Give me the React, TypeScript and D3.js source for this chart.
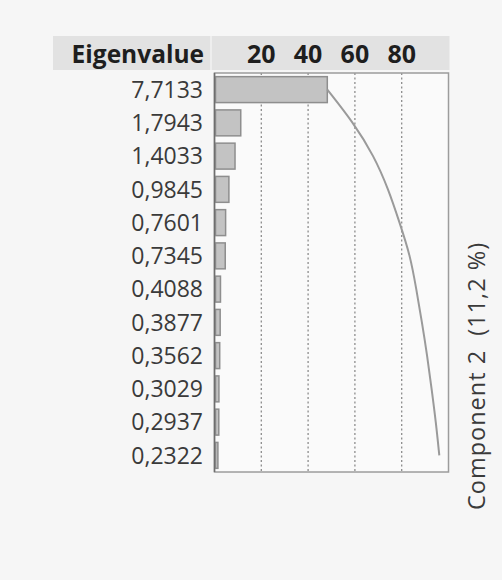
import React, { useEffect, useRef } from 'react';
import * as d3 from 'd3';

// eigenvalues of the first 12 components (16 variables in total)
const eigenvalues: number[] = [
  7.7133, 1.7943, 1.4033, 0.9845, 0.7601, 0.7345, 0.4088, 0.3877, 0.3562, 0.3029, 0.2937, 0.2322,
];
const eigenLabels: string[] = [
  '7,7133', '1,7943', '1,4033', '0,9845', '0,7601', '0,7345',
  '0,4088', '0,3877', '0,3562', '0,3029', '0,2937', '0,2322',
];
const totalVariance = 16;
const percentTicks: number[] = [20, 40, 60, 80];
const sideLabel = 'Component 2  (11,2 %)';

const App: React.FC = () => {
  const chartRef = useRef<SVGSVGElement | null>(null);

  useEffect(() => {
    const width = 502;
    const height = 580;
    const svg = d3.select(chartRef.current);
    svg.selectAll('*').remove();
    svg.attr('width', width).attr('height', height);

    const font = "'Open Sans', 'Noto Sans', sans-serif";
    const plot = { left: 214.5, right: 448.5, top: 73, bottom: 472 };

    svg.append('rect').attr('width', width).attr('height', height).attr('fill', '#f6f6f6');

    const rows = eigenvalues.map((v, i) => ({
      label: eigenLabels[i],
      pct: (v / totalVariance) * 100,
      cum: (d3.sum(eigenvalues.slice(0, i + 1)) / totalVariance) * 100,
    }));

    const x = d3.scaleLinear().domain([0, 100]).range([plot.left, plot.right]);
    const y = d3
      .scaleBand<string>()
      .domain(rows.map((d) => d.label))
      .range([plot.top, plot.bottom])
      .paddingInner(0.22)
      .paddingOuter(0.11);

    // header band
    svg.append('rect')
      .attr('x', 53).attr('y', 36)
      .attr('width', plot.right - 53 + 1).attr('height', 34)
      .attr('fill', '#e2e2e2');
    svg.append('line')
      .attr('x1', 211).attr('x2', 211).attr('y1', 36).attr('y2', 70)
      .attr('stroke', '#f2f2f2').attr('stroke-width', 1.5);

    svg.append('text')
      .attr('x', 204).attr('y', 62.5)
      .attr('text-anchor', 'end')
      .attr('font-family', font).attr('font-weight', 700).attr('font-size', 24.5)
      .attr('fill', '#1e1e1e')
      .text('Eigenvalue');

    svg.append('g')
      .selectAll('text')
      .data(percentTicks)
      .join('text')
      .attr('x', (d) => x(d))
      .attr('y', 62.5)
      .attr('text-anchor', 'middle')
      .attr('font-family', font).attr('font-weight', 700).attr('font-size', 25)
      .attr('fill', '#1e1e1e')
      .text((d) => d);

    // plot area
    svg.append('rect')
      .attr('x', plot.left).attr('y', plot.top)
      .attr('width', plot.right - plot.left).attr('height', plot.bottom - plot.top)
      .attr('fill', '#fafafa');

    // dotted grid
    svg.append('g')
      .selectAll('line')
      .data(percentTicks)
      .join('line')
      .attr('x1', (d) => x(d)).attr('x2', (d) => x(d))
      .attr('y1', plot.top).attr('y2', plot.bottom)
      .attr('stroke', '#8c8c8c')
      .attr('stroke-width', 1.3)
      .attr('stroke-dasharray', '2,2.5');

    // bars
    svg.append('g')
      .selectAll('rect')
      .data(rows)
      .join('rect')
      .attr('x', x(0) + 1)
      .attr('y', (d) => y(d.label)!)
      .attr('width', (d) => Math.max(x(d.pct) - x(0) - 1, 1))
      .attr('height', y.bandwidth())
      .attr('fill', '#c3c3c3')
      .attr('stroke', '#8e8e8e')
      .attr('stroke-width', 1.5);

    // cumulative curve (smoothed)
    const line = d3
      .line<{ cum: number; label: string }>()
      .x((d) => x(d.cum))
      .y((d) => y(d.label)! + y.bandwidth() / 2)
      .curve(d3.curveBasis);
    svg.append('path')
      .datum(rows)
      .attr('d', line)
      .attr('fill', 'none')
      .attr('stroke', '#9a9a9a')
      .attr('stroke-width', 2);

    // frame
    svg.append('rect')
      .attr('x', plot.left).attr('y', plot.top)
      .attr('width', plot.right - plot.left).attr('height', plot.bottom - plot.top)
      .attr('fill', 'none')
      .attr('stroke', '#9c9c9c')
      .attr('stroke-width', 1.5);
    svg.append('line')
      .attr('x1', plot.left).attr('x2', plot.left)
      .attr('y1', plot.top).attr('y2', plot.bottom)
      .attr('stroke', '#6e6e6e').attr('stroke-width', 1.5);

    // row labels
    svg.append('g')
      .selectAll('text')
      .data(rows)
      .join('text')
      .attr('x', 203)
      .attr('y', (d) => y(d.label)! + y.bandwidth() / 2)
      .attr('dy', '0.36em')
      .attr('text-anchor', 'end')
      .attr('font-family', font).attr('font-size', 23)
      .attr('fill', '#3a3a3a')
      .text((d) => d.label);

    // side label
    svg.append('text')
      .attr('transform', 'translate(485,376) rotate(-90)')
      .attr('text-anchor', 'middle')
      .attr('font-family', font).attr('font-size', 23.5)
      .attr('letter-spacing', 1)
      .attr('fill', '#3a3a3a')
      .attr('xml:space', 'preserve')
      .style('white-space', 'pre')
      .text(sideLabel);
  }, []);

  return (
    <div style={{ position: 'absolute', left: 0, top: 0 }}>
      <svg ref={chartRef} style={{ display: 'block' }}></svg>
    </div>
  );
};

export default App;
